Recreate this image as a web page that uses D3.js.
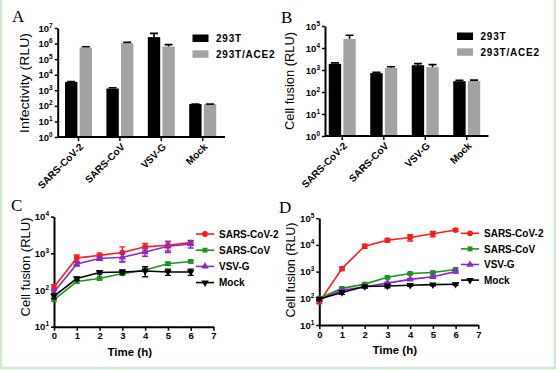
<!DOCTYPE html>
<html>
<head>
<meta charset="utf-8">
<script src="https://cdn.jsdelivr.net/npm/d3@7"></script>
<style>
body{margin:0;background:#fff}
svg text{font-family:"Liberation Sans",Arial,sans-serif;fill:#000}
.tick text{font-size:9.5px;font-weight:bold}
.ytitle{font-size:12px}
.xtitle{font-size:11.5px;font-weight:bold}
.letter{font-family:"Liberation Serif","Times New Roman",serif !important;font-size:17px}
.leg{font-size:10px;font-weight:bold}
.cat{font-size:10px;font-weight:bold}
</style>
</head>
<body>
<svg id="fig" width="556" height="370"></svg>
<script>
// ---- bar panels (A, B) ----
const barCats = ["SARS-CoV-2", "SARS-CoV", "VSV-G", "Mock"]
const barSeries = ["293T", "293T/ACE2"]
const barColors = ["#000000", "#a3a3a3"]

const infect293T = [3400, 1300, 2600000, 130]
const infect293TSd = [300, 150, 1900000, 0]
const infectACE2 = [550000, 1050000, 640000, 130]
const infectACE2Sd = [70000, 150000, 220000, 0]

const fusion293T = [1900, 720, 1650, 310]
const fusion293TSd = [200, 60, 300, 30]
const fusionACE2 = [26000, 1250, 1350, 320]
const fusionACE2Sd = [12000, 150, 400, 25]

// ---- time course panels (C, D) ----
const hours = [0, 1, 2, 3, 4, 5, 6]
const lineSeries = ["SARS-CoV-2", "SARS-CoV", "VSV-G", "Mock"]
const lineColors = ["#ff1a1a", "#1a961a", "#8a2bc8", "#000000"]

const c_cov2 = [120, 750, 880, 1050, 1500, 1650, 1950]
const c_cov2Sd = [20, 150, 130, 450, 350, 500, 300]
const c_cov = [55, 170, 205, 280, 350, 520, 600]
const c_covSd = [6, 15, 18, 25, 30, 50, 45]
const c_vsv = [88, 510, 720, 780, 1080, 1550, 1800]
const c_vsvSd = [10, 60, 80, 200, 250, 500, 400]
const c_mock = [68, 205, 300, 310, 330, 310, 310]
const c_mockSd = [10, 20, 30, 40, 100, 60, 60]

const d_cov2 = [72, 1300, 9000, 15000, 19000, 26000, 36000]
const d_cov2Sd = [8, 200, 1500, 2000, 5000, 6000, 4000]
const d_cov = [100, 235, 340, 610, 850, 920, 1200]
const d_covSd = [8, 25, 30, 60, 80, 90, 120]
const d_vsv = [88, 200, 270, 370, 510, 640, 1000]
const d_vsvSd = [8, 20, 25, 30, 40, 50, 100]
const d_mock = [95, 165, 275, 290, 310, 325, 335]
const d_mockSd = [10, 25, 30, 40, 30, 30, 30]

const yTicksA = [1, 10, 100, 1e3, 1e4, 1e5, 1e6, 1e7]
const yTicksB = [1, 10, 100, 1e3, 1e4, 1e5]
const yTicksC = [10, 100, 1e3, 1e4]
const yTicksD = [10, 100, 1e3, 1e4, 1e5]
const xTicksLine = [0, 1, 2, 3, 4, 5, 6, 7]

const svg = d3.select("#fig")

// light green frame of the figure
svg.append("rect").attr("x", 1).attr("y", -2).attr("width", 554).attr("height", 370)
    .attr("fill", "none").attr("stroke", "#cfe9cf").attr("stroke-width", 2.5)

function powerLabels(g){
    g.selectAll(".tick text").each(function(d){
        let t = d3.select(this)
        t.text(null)
        t.append("tspan").text("10")
        t.append("tspan").attr("dy", -4).attr("font-size", 6.5).text(Math.round(Math.log10(d)))
    })
}

function styleAxis(g){
    g.select(".domain").attr("stroke-width", 2)
    g.selectAll(".tick line").attr("stroke-width", 1.5)
}

function yTitle(x, y, len, label){
    svg.append("text").attr("class", "ytitle")
        .attr("transform", `translate(${x},${y}) rotate(-90)`)
        .attr("text-anchor", "middle")
        .attr("textLength", len).attr("lengthAdjust", "spacingAndGlyphs")
        .text(label)
}

function barPanel(p){
    let x = d3.scaleBand().domain(barCats).range(p.band)
    let sub = d3.scaleBand().domain(barSeries).range([-13.5, 13.5]).paddingInner(0.15)
    let y = d3.scaleLog().domain(p.ydom).range(p.yrange)

    let yAxis = svg.append("g").attr("transform", `translate(${p.axisX},0)`)
        .call(d3.axisLeft(y).tickValues(p.yticks).tickSize(3).tickSizeOuter(0).tickPadding(2))
    powerLabels(yAxis)
    styleAxis(yAxis)

    let groups = [p.s1, p.s2]
    let sds = [p.s1Sd, p.s2Sd]
    groups.forEach((vals, k) => {
        let s = barSeries[k]
        let g = svg.append("g")
        g.selectAll("rect").data(barCats).join("rect")
            .attr("x", (c) => x(c) + x.bandwidth() / 2 + sub(s))
            .attr("width", sub.bandwidth())
            .attr("y", (c, i) => y(vals[i]))
            .attr("height", (c, i) => y(p.ydom[0]) - y(vals[i]))
            .attr("fill", barColors[k])
        // upper error bars
        g.selectAll("path.err").data(barCats).join("path").attr("class", "err")
            .attr("d", (c, i) => {
                let cx = x(c) + x.bandwidth() / 2 + sub(s) + sub.bandwidth() / 2
                let top = y(vals[i] + sds[k][i])
                return `M${cx},${y(vals[i])}V${top}M${cx - 4},${top}H${cx + 4}`
            })
            .attr("stroke", "#000").attr("stroke-width", 1.6).attr("fill", "none")
    })

    // x axis
    let base = y(p.ydom[0])
    svg.append("line").attr("x1", p.axisX).attr("x2", p.axisEnd).attr("y1", base).attr("y2", base)
        .attr("stroke", "#000").attr("stroke-width", 2)
    svg.selectAll(null).data(barCats).join("line")
        .attr("x1", (c) => x(c) + x.bandwidth() / 2).attr("x2", (c) => x(c) + x.bandwidth() / 2)
        .attr("y1", base).attr("y2", base + 4).attr("stroke", "#000").attr("stroke-width", 1.5)
    svg.selectAll(null).data(barCats).join("text").attr("class", "cat")
        .attr("transform", (c) => `translate(${x(c) + x.bandwidth() / 2 + 3},${base + 8}) rotate(-45)`)
        .attr("text-anchor", "end").attr("dy", "0.35em")
        .text((c) => c)

    // legend
    barSeries.forEach((s, k) => {
        svg.append("rect").attr("x", p.legX).attr("y", p.legY + k * 15.8)
            .attr("width", 16).attr("height", 7.5).attr("fill", barColors[k])
        svg.append("text").attr("class", "leg").attr("x", p.legX + 23.5).attr("y", p.legY + k * 15.8 + 7.3)
            .attr("letter-spacing", 0.8).text(s)
    })

    yTitle(p.titleX, p.titleY, p.titleLen, p.title)
    svg.append("text").attr("class", "letter").attr("x", p.letterX).attr("y", p.letterY).text(p.letter)
}

function linePanel(p){
    let x = d3.scaleLinear().domain([0, 7]).range(p.xrange)
    let y = d3.scaleLog().domain(p.ydom).range(p.yrange)

    let xAxis = svg.append("g").attr("transform", `translate(0,${p.yrange[0]})`)
        .call(d3.axisBottom(x).tickValues(xTicksLine).tickFormat(d3.format("d")).tickSize(4).tickSizeOuter(0).tickPadding(2))
    styleAxis(xAxis)
    xAxis.selectAll(".tick text").attr("font-size", 10)
    let yAxis = svg.append("g").attr("transform", `translate(${p.xrange[0]},0)`)
        .call(d3.axisLeft(y).tickValues(p.yticks).tickSize(3).tickSizeOuter(0).tickPadding(2))
    powerLabels(yAxis)
    styleAxis(yAxis)

    let symbols = [d3.symbolCircle, d3.symbolSquare, d3.symbolTriangle, d3.symbolTriangle]
    let line = d3.line().x((d, i) => x(hours[i])).y((d) => y(d))

    p.series.forEach((vals, k) => {
        let col = lineColors[k]
        let g = svg.append("g")
        g.append("path").datum(vals).attr("d", line)
            .attr("fill", "none").attr("stroke", col).attr("stroke-width", 1.6)
        g.selectAll("path.err").data(vals).join("path").attr("class", "err")
            .attr("d", (d, i) => {
                let cx = x(hours[i]), lo = y(Math.max(d - p.sds[k][i], p.ydom[0])), hi = y(d + p.sds[k][i])
                return `M${cx},${lo}V${hi}M${cx - 3},${hi}H${cx + 3}M${cx - 3},${lo}H${cx + 3}`
            })
            .attr("stroke", col).attr("stroke-width", 1.4).attr("fill", "none")
        g.selectAll("path.mk").data(vals).join("path").attr("class", "mk")
            .attr("d", d3.symbol().type(symbols[k]).size(k == 0 ? 26 : 24))
            .attr("transform", (d, i) => `translate(${x(hours[i])},${y(d)})${k == 3 ? " rotate(180)" : ""}`)
            .attr("fill", col)

        // legend entry
        let ly = p.legY + k * p.legStep
        svg.append("line").attr("x1", p.legX).attr("x2", p.legX + 18).attr("y1", ly).attr("y2", ly)
            .attr("stroke", col).attr("stroke-width", 1.6)
        svg.append("path").attr("d", d3.symbol().type(symbols[k]).size(k == 0 ? 26 : 24))
            .attr("transform", `translate(${p.legX + 9},${ly})${k == 3 ? " rotate(180)" : ""}`)
            .attr("fill", col)
        svg.append("text").attr("class", "leg").attr("x", p.legX + 23).attr("y", ly + 3.6).text(lineSeries[k])
    })

    svg.append("text").attr("class", "xtitle").attr("x", (p.xrange[0] + p.xrange[1]) / 2 - 4)
        .attr("y", p.yrange[0] + 29).attr("text-anchor", "middle").text("Time (h)")
    yTitle(p.titleX, p.titleY, p.titleLen, "Cell fusion (RLU)")
    svg.append("text").attr("class", "letter").attr("x", p.letterX).attr("y", p.letterY).text(p.letter)
}

barPanel({
    letter: "A", letterX: 12, letterY: 22,
    band: [57.8, 223.4], axisX: 57.7, axisEnd: 225,
    ydom: [1, 1e7], yrange: [137, 28], yticks: yTicksA,
    s1: infect293T, s1Sd: infect293TSd, s2: infectACE2, s2Sd: infectACE2Sd,
    legX: 192.5, legY: 34.5,
    title: "Infectivity (RLU)", titleX: 29, titleY: 83, titleLen: 100
})

barPanel({
    letter: "B", letterX: 281, letterY: 23,
    band: [321.5, 487.5], axisX: 325, axisEnd: 488.5,
    ydom: [1, 1e5], yrange: [136, 26], yticks: yTicksB,
    s1: fusion293T, s1Sd: fusion293TSd, s2: fusionACE2, s2Sd: fusionACE2Sd,
    legX: 457, legY: 32.5,
    title: "Cell fusion (RLU)", titleX: 294, titleY: 81, titleLen: 98
})

linePanel({
    letter: "C", letterX: 11, letterY: 211,
    xrange: [54, 213.5], ydom: [10, 1e4], yrange: [326.7, 216.6], yticks: yTicksC,
    series: [c_cov2, c_cov, c_vsv, c_mock], sds: [c_cov2Sd, c_covSd, c_vsvSd, c_mockSd],
    legX: 196, legY: 234, legStep: 16.2,
    titleX: 30, titleY: 267, titleLen: 99
})

linePanel({
    letter: "D", letterX: 279, letterY: 213,
    xrange: [319.3, 478.3], ydom: [10, 1e5], yrange: [325, 218.2], yticks: yTicksD,
    series: [d_cov2, d_cov, d_vsv, d_mock], sds: [d_cov2Sd, d_covSd, d_vsvSd, d_mockSd],
    legX: 461, legY: 233.3, legStep: 15.6,
    titleX: 295, titleY: 270, titleLen: 95
})
</script>
</body>
</html>
